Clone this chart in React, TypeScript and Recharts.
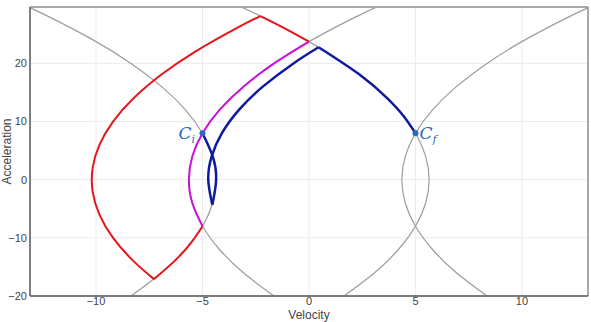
import { LineChart, Line, XAxis, YAxis, CartesianGrid, ReferenceDot, ReferenceArea } from 'recharts'

// gray guide curves (velocity, acceleration)
const guideAcc = [-20, -16, -12, -8, -4, 0, 4, 8, 12, 16, 20, 24, 28, 30]
const guideLeftOpen = [-8.36, -6.92, -5.8, -5.0, -4.52, -4.36, -4.52, -5.0, -5.8, -6.92, -8.36, -10.12, -12.2, -13.36]
const guideRightOpen = [-1.64, -3.08, -4.2, -5.0, -5.48, -5.64, -5.48, -5.0, -4.2, -3.08, -1.64, 0.12, 2.2, 3.36]
const guideFinalRight = [8.36, 6.92, 5.8, 5.0, 4.52, 4.36, 4.52, 5.0, 5.8, 6.92, 8.36, 10.12, 12.2, 13.36]
const guideFinalLeft = [1.64, 3.08, 4.2, 5.0, 5.48, 5.64, 5.48, 5.0, 4.2, 3.08, 1.64, -0.12, -2.2, -3.36]

// red path, three arcs
const redAcc1 = [-8, -11, -14, -17.1]
const redVel1 = [-5.0, -5.57, -6.32, -7.28]
const redAcc2 = [-17.1, -14, -10, -6, -2, 2, 6, 10, 14, 18, 22, 26, 28.14]
const redVel2 = [-7.28, -8.24, -9.2, -9.84, -10.16, -10.16, -9.84, -9.2, -8.24, -6.96, -5.36, -3.44, -2.28]
const redAcc3 = [28.14, 26, 23.75]
const redVel3 = [-2.28, -1.12, 0.0]

// magenta path
const magAcc = [-8, -4, 0, 4, 8, 12, 16, 20, 23.75]
const magVel = [-5.0, -5.48, -5.64, -5.48, -5.0, -4.2, -3.08, -1.64, 0.0]

// blue path, three arcs
const blueAcc1 = [8, 4, 0, -4.3]
const blueVel1 = [-5.0, -4.52, -4.36, -4.54]
const blueAcc2 = [-4.3, 0, 4, 8, 12, 16, 20, 22.77]
const blueVel2 = [-4.54, -4.73, -4.57, -4.09, -3.29, -2.17, -0.73, 0.45]
const blueAcc3 = [22.77, 18, 14, 11, 8]
const blueVel3 = [0.45, 2.4, 3.68, 4.43, 5.0]

const xTicks = [-10, -5, 0, 5, 10]
const yTicks = [-20, -10, 0, 10, 20]
const xDomain = [-13.1, 13.1]
const yDomain = [-20, 29.7]
const initial = { v: -5, a: 8 }
const final = { v: 5, a: 8 }

const pts = (vel: number[], acc: number[]) => vel.map((v, i) => ({ v, a: acc[i] }))
const fmt = (n: number) => (n < 0 ? '\u2212' + Math.abs(n) : String(n))

const GRAY = '#9c9c9c'
const RED = '#e8141a'
const MAGENTA = '#cc11dd'
const BLUE = '#0f1aa0'
const POINT = '#2a6ac0'
const TXT = '#444'
const FONT = 'Liberation Sans, Arial, sans-serif'

const stateLabel = (sub: string, side: 'left' | 'right') => (props: any) => {
  const { viewBox } = props
  const cx = viewBox.x + viewBox.width / 2
  const cy = viewBox.y + viewBox.height / 2
  const x = side === 'left' ? cx - 24 : cx + 4
  return (
    <text x={x} y={cy + 6} fill={POINT} fontFamily="DejaVu Serif, serif" fontStyle="italic" fontSize={17}>
      C<tspan fontSize={11} dy={4}>{sub}</tspan>
    </text>
  )
}

const xTitle = (props: any) => {
  const { viewBox } = props
  return (
    <text x={viewBox.x + viewBox.width / 2} y={319} textAnchor="middle" fill={TXT} fontSize={12} fontFamily={FONT}>
      Velocity
    </text>
  )
}

const yTitle = (props: any) => {
  const { viewBox } = props
  const cy = viewBox.y + viewBox.height / 2
  return (
    <text x={11} y={cy} transform={`rotate(-90, 11, ${cy})`} textAnchor="middle" fill={TXT} fontSize={12} fontFamily={FONT}>
      Acceleration
    </text>
  )
}

export default function App() {
  const curves: { data: { v: number; a: number }[]; color: string; w: number }[] = [
    { data: pts(guideLeftOpen, guideAcc), color: GRAY, w: 1.2 },
    { data: pts(guideRightOpen, guideAcc), color: GRAY, w: 1.2 },
    { data: pts(guideFinalRight, guideAcc), color: GRAY, w: 1.2 },
    { data: pts(guideFinalLeft, guideAcc), color: GRAY, w: 1.2 },
    { data: pts(redVel1, redAcc1), color: RED, w: 2 },
    { data: pts(redVel2, redAcc2), color: RED, w: 2 },
    { data: pts(redVel3, redAcc3), color: RED, w: 2 },
    { data: pts(magVel, magAcc), color: MAGENTA, w: 2 },
    { data: pts(blueVel1, blueAcc1), color: BLUE, w: 2.5 },
    { data: pts(blueVel2, blueAcc2), color: BLUE, w: 2.5 },
    { data: pts(blueVel3, blueAcc3), color: BLUE, w: 2.5 },
  ]

  return (
    <div style={{ position: 'absolute', left: 0, top: 0, width: 591, height: 322, background: '#fff' }}>
      <LineChart width={591} height={322} margin={{ top: 7, right: 3, bottom: 0, left: 0 }}
        style={{ fontFamily: FONT }}>
        <CartesianGrid stroke="#ececec" horizontalValues={yTicks} verticalValues={xTicks} />
        <XAxis type="number" dataKey="v" domain={xDomain} ticks={xTicks} allowDataOverflow
          tickFormatter={fmt} tickLine={false} tickSize={0} height={26} tickMargin={1}
          axisLine={{ stroke: '#555' }} tick={{ fill: TXT, fontSize: 11 }} label={xTitle} />
        <YAxis type="number" dataKey="a" domain={yDomain} ticks={yTicks} allowDataOverflow
          tickFormatter={fmt} tickLine={false} tickSize={0} width={30} tickMargin={3}
          axisLine={{ stroke: '#555' }} tick={{ fill: TXT, fontSize: 11 }} label={yTitle} />
        {curves.map((c, i) => (
          <Line key={i} data={c.data} dataKey="a" type="natural" stroke={c.color} strokeWidth={c.w}
            dot={false} activeDot={false} isAnimationActive={false} />
        ))}
        <ReferenceArea x1={xDomain[0]} x2={xDomain[1]} y1={yDomain[0]} y2={yDomain[1]}
          fill="none" fillOpacity={0} stroke="#555" strokeWidth={1} />
        <ReferenceDot x={initial.v} y={initial.a} r={3} fill={POINT} stroke="none" label={stateLabel('i', 'left')} />
        <ReferenceDot x={final.v} y={final.a} r={3} fill={POINT} stroke="none" label={stateLabel('f', 'right')} />
      </LineChart>
    </div>
  )
}
